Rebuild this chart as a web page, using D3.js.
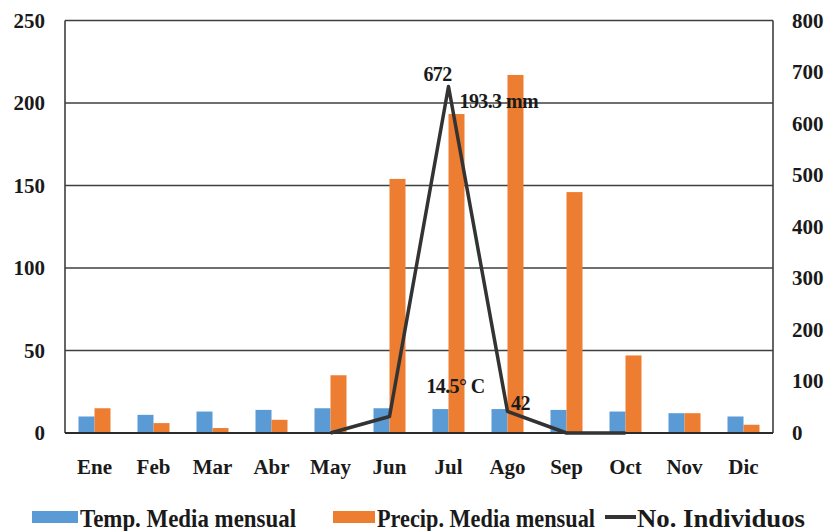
<!DOCTYPE html>
<html>
<head>
<meta charset="utf-8">
<script src="https://cdn.jsdelivr.net/npm/d3@7"></script>
<style>
  body { margin: 0; background: #fff; }
  text { font-family: "Liberation Serif", "Times New Roman", serif; font-weight: bold; fill: #1a1a1a; }
</style>
</head>
<body>
<svg id="chart" width="831" height="531"></svg>
<script>
var months = ['Ene','Feb','Mar','Abr','May','Jun','Jul','Ago','Sep','Oct','Nov','Dic'];
var temp   = [10, 11, 13, 14, 15, 15, 14.5, 14.5, 14, 13, 12, 10];
var precip = [15, 6, 3, 8, 35, 154, 193.3, 217, 146, 47, 12, 5];
var indiv  = [null, null, null, null, 0, 32, 672, 42, 0, 0, null, null];
var leftTicks  = [0, 50, 100, 150, 200, 250];
var rightTicks = [0, 100, 200, 300, 400, 500, 600, 700, 800];

var svg = d3.select('#chart');
var m = {left: 65, right: 773, top: 20.5, bottom: 433};

var x = d3.scaleBand().domain(months).range([m.left, m.right]);
var xs = d3.scaleBand().domain(['t','p']).range([0, 32]).padding(0);
var yL = d3.scaleLinear().domain([0, 250]).range([m.bottom, m.top]);
var yR = d3.scaleLinear().domain([0, 800]).range([m.bottom, m.top]);

// gridlines
svg.append('g').selectAll('line').data(leftTicks).join('line')
  .attr('x1', m.left).attr('x2', m.right)
  .attr('y1', function(d) { return yL(d); }).attr('y2', function(d) { return yL(d); })
  .attr('stroke', '#3f3f3f').attr('stroke-width', 1.6);

// frame sides
svg.append('line').attr('x1', m.left).attr('x2', m.left).attr('y1', m.top).attr('y2', m.bottom)
  .attr('stroke', '#3f3f3f').attr('stroke-width', 1.6);
svg.append('line').attr('x1', m.right).attr('x2', m.right).attr('y1', m.top).attr('y2', m.bottom)
  .attr('stroke', '#3f3f3f').attr('stroke-width', 1.6);

// bars
var g = svg.append('g');
months.forEach(function(mo, i) {
  var x0 = x(mo) + x.bandwidth() / 2 - 16;
  g.append('rect')
    .attr('x', x0 + xs('t')).attr('width', xs.bandwidth())
    .attr('y', yL(temp[i])).attr('height', m.bottom - yL(temp[i]))
    .attr('fill', '#5b9bd5');
  g.append('rect')
    .attr('x', x0 + xs('p')).attr('width', xs.bandwidth())
    .attr('y', yL(precip[i])).attr('height', m.bottom - yL(precip[i]))
    .attr('fill', '#ed7d31');
});

// bottom axis line on top of bars
svg.append('line').attr('x1', m.left).attr('x2', m.right).attr('y1', m.bottom).attr('y2', m.bottom)
  .attr('stroke', '#2b2b2b').attr('stroke-width', 2);

// individuals line
var line = d3.line()
  .defined(function(d) { return d != null; })
  .x(function(d, i) { return x(months[i]) + x.bandwidth() / 2; })
  .y(function(d) { return yR(d); });
svg.append('path').datum(indiv)
  .attr('d', line)
  .attr('fill', 'none').attr('stroke', '#333333').attr('stroke-width', 3.5)
  .attr('stroke-linejoin', 'round');

// axes labels
svg.append('g').selectAll('text').data(leftTicks).join('text')
  .attr('x', 45).attr('y', function(d) { return yL(d) + 7; })
  .attr('text-anchor', 'end').attr('font-size', 21)
  .text(function(d) { return d; });
svg.append('g').selectAll('text').data(rightTicks).join('text')
  .attr('x', 792).attr('y', function(d) { return yR(d) + 7; })
  .attr('text-anchor', 'start').attr('font-size', 21)
  .text(function(d) { return d; });
svg.append('g').selectAll('text').data(months).join('text')
  .attr('x', function(d) { return x(d) + x.bandwidth() / 2; }).attr('y', 474)
  .attr('text-anchor', 'middle').attr('font-size', 21)
  .text(function(d) { return d; });

// annotations
var ann = [
  {t: '672', xi: 6, v: indiv[6], s: 'R', dx: -11, dy: -6, a: 'middle'},
  {t: '193.3 mm', xi: 6, v: precip[6], s: 'L', dx: 11, dy: -6, a: 'start'},
  {t: '14.5\u00b0 C', xi: 6, v: temp[6], s: 'L', dx: 7, dy: -16, a: 'middle'},
  {t: '42', xi: 7, v: indiv[7], s: 'R', dx: 13, dy: -1, a: 'middle'}
];
svg.append('g').selectAll('text').data(ann).join('text')
  .attr('x', function(d) { return x(months[d.xi]) + x.bandwidth() / 2 + d.dx; })
  .attr('y', function(d) { return (d.s === 'R' ? yR(d.v) : yL(d.v)) + d.dy; })
  .attr('text-anchor', function(d) { return d.a; })
  .attr('font-size', 20).attr('letter-spacing', -0.6)
  .text(function(d) { return d.t; });

// legend
var legend = [
  {label: 'Temp. Media mensual', color: '#5b9bd5', type: 'rect', sx: 32, tx: 80, w: 216},
  {label: 'Precip. Media mensual', color: '#ed7d31', type: 'rect', sx: 333, tx: 377, w: 218},
  {label: 'No. Individuos', color: '#333333', type: 'line', sx: 605, tx: 637, w: 168}
];
legend.forEach(function(l) {
  if (l.type === 'rect') {
    svg.append('rect').attr('x', l.sx).attr('y', 511).attr('width', l.tx - l.sx - 2).attr('height', 12)
      .attr('fill', l.color);
  } else {
    svg.append('line').attr('x1', l.sx).attr('x2', l.tx - 1).attr('y1', 517).attr('y2', 517)
      .attr('stroke', l.color).attr('stroke-width', 4);
  }
  svg.append('text').attr('x', l.tx).attr('y', 527)
    .attr('font-size', 25).attr('textLength', l.w).attr('lengthAdjust', 'spacingAndGlyphs')
    .text(l.label);
});
</script>
</body>
</html>
